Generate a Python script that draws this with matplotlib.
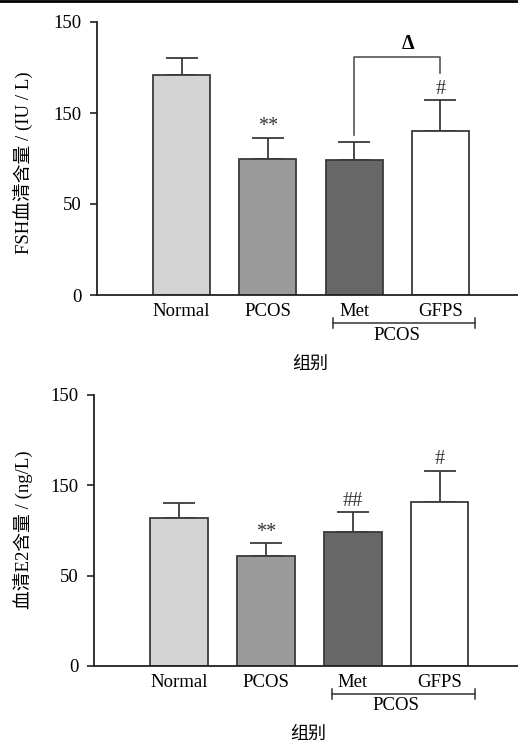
import matplotlib
matplotlib.use("Agg")
import matplotlib.pyplot as plt
from matplotlib.lines import Line2D
import matplotlib.transforms as mtransforms

plt.rcParams['font.family'] = ['Liberation Serif', 'Noto Sans CJK SC', 'DejaVu Sans']

groups = ['Normal', 'PCOS', 'Met', 'GFPS']
colors = ['#d4d4d4', '#9b9b9b', '#676767', '#ffffff']
yticks = [0, 50, 100, 150]
ytick_labels = ['0', '50', '150', '150']

fsh_mean = [121, 75, 74, 90]
fsh_err = [9, 11.5, 10, 17]
fsh_marks = ['', '**', '', '#']

e2_mean = [82, 61, 74, 91]
e2_err = [8, 7, 11, 17]
e2_marks = ['', '**', '##', '#']

W, H = 518, 744
fig = plt.figure(figsize=(W / 100, H / 100), dpi=100)
FS = 13.5
EDGE = '#3a3a3a'


def make_panel(rect, means, errs, marks, ylabel, ylab_xy, xlab_xy):
    ax = fig.add_axes(rect)
    x = list(range(len(groups)))
    ax.bar(x, means, width=0.66, color=colors, edgecolor=EDGE, linewidth=1.3, zorder=2)
    ax.errorbar(x, means, yerr=[[0] * len(errs), errs], fmt='none', ecolor=EDGE,
                elinewidth=1.3, capsize=11.5, capthick=1.3, zorder=1)
    for xi, m, e, mk in zip(x, means, errs, marks):
        if mk:
            ax.annotate(mk, (xi, m + e), xytext=(0, 1), textcoords='offset points',
                        ha='center', va='bottom', fontsize=FS + 1, color='#333333')
    ax.set_xlim(-0.98, 3.9)
    ax.set_ylim(0, 150)
    ax.set_yticks(yticks)
    ax.set_yticklabels(ytick_labels, fontsize=FS)
    ax.set_xticks(x)
    ax.set_xticklabels(groups, fontsize=FS)
    ax.tick_params(axis='y', direction='out', length=5, width=1.2, pad=6, color='#222222')
    ax.tick_params(axis='x', direction='in', length=3.5, width=1.2, pad=5.5, color='#222222')
    for s in ['top', 'right']:
        ax.spines[s].set_visible(False)
    for s in ['left', 'bottom']:
        ax.spines[s].set_linewidth(1.3)
        ax.spines[s].set_color('#222222')
    # PCOS sub-group bracket below axis
    tr = mtransforms.blended_transform_factory(ax.transData, ax.transAxes)
    hpx = rect[3] * H
    yb = -28 / hpx
    cap = 5 / hpx
    ax.add_line(Line2D([1.76, 3.40], [yb, yb], transform=tr, color='#333333', lw=1.1, clip_on=False))
    for xe in (1.76, 3.40):
        ax.add_line(Line2D([xe, xe], [yb - cap, yb + cap], transform=tr, color='#333333', lw=1.1, clip_on=False))
    ax.text(2.5, -40 / hpx, 'PCOS', transform=tr, ha='center', va='center', fontsize=FS)
    fig.text(ylab_xy[0] / W, 1 - ylab_xy[1] / H, ylabel, rotation=90, ha='center', va='center',
             fontsize=FS)
    fig.text(xlab_xy[0] / W, 1 - xlab_xy[1] / H, '组别', ha='center', va='center', fontsize=FS - 0.5)
    return ax


ax1 = make_panel([97 / W, 1 - 295 / H, (W - 97) / W, (295 - 22) / H], fsh_mean, fsh_err, fsh_marks,
                 'FSH血清含量 / (IU / L)', (23, 163), (310, 364))
# significance bracket Met vs GFPS
ax1.plot([2, 2, 3, 3], [fsh_mean[2] + fsh_err[2] + 4, 131, 131, 122], color='#555555', lw=1.2,
         clip_on=False)
ax1.text(2.62, 138, 'Δ', ha='center', va='center', fontsize=FS + 1, fontweight='bold')

ax2 = make_panel([94 / W, 1 - 666 / H, (W - 94) / W, (666 - 395) / H], e2_mean, e2_err, e2_marks,
                 '血清E2含量 / (ng/L)', (23, 530), (308, 734))

fig.add_artist(Line2D([0, 1], [1 - 1 / H, 1 - 1 / H], transform=fig.transFigure, color='black', lw=2))

fig.savefig('out.png', dpi=100)
